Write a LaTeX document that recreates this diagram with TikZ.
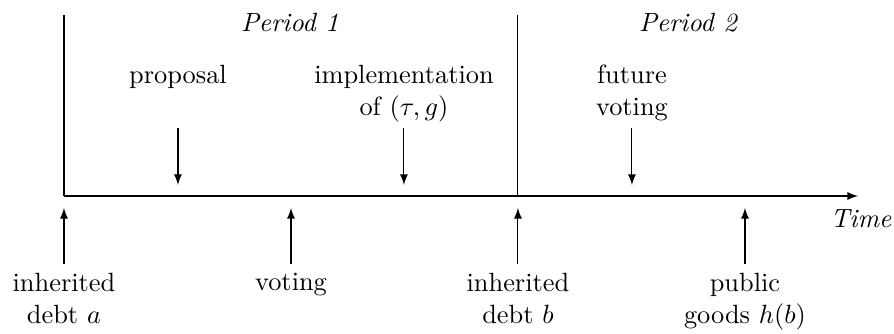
\documentclass[tikz,border=0pt]{standalone}
\usepackage{amsmath}
\usepackage{tikz}
\usetikzlibrary{arrows.meta}

\begin{document}
\begin{tikzpicture}[>=latex, toplabel/.style={align=center, anchor=north}, botlabel/.style={align=center, anchor=north}]
    % 1. Frame of the picture
    \useasboundingbox (-0.853,-1.827) rectangle (11.067,2.613);

    % 2. Time axis and period separators
    \coordinate (start) at (0,0);
    \coordinate (finish) at (10.587,0);
    \coordinate (split) at (6.053,0);
    \coordinate (starttop) at (0,2.413);
    \coordinate (splittop) at (6.053,2.413);
    \draw[->] (start) -- (finish);
    \draw (start) -- (starttop);
    \draw (split) -- (splittop);
    \node (time) at (10.627,-0.3) {\textit{Time}};

    % 3. Period titles
    \node (per1) at (3.013,2.313) {\textit{Period 1}};
    \node (per2) at (8.327,2.313) {\textit{Period 2}};

    % 4. Events above the axis
    \coordinate (prop1) at (1.52,0.907);    \coordinate (prop2) at (1.52,0.147);
    \coordinate (impl1) at (4.533,0.907);   \coordinate (impl2) at (4.533,0.147);
    \coordinate (fut1) at (7.573,0.907);    \coordinate (fut2) at (7.573,0.147);
    \draw[->] (prop1) -- (prop2);
    \draw[->] (impl1) -- (impl2);
    \draw[->] (fut1) -- (fut2);
    \node[toplabel] (proposal) at (1.52,1.867) {proposal};
    \node[toplabel] (implement) at (4.533,1.867) {implementation\\ of $(\tau,g)$};
    \node[toplabel] (future) at (7.573,1.867) {future\\ voting};

    % 5. Events below the axis
    \coordinate (debta1) at (0,-0.907);     \coordinate (debta2) at (0,-0.16);
    \coordinate (vote1) at (3.027,-0.907);  \coordinate (vote2) at (3.027,-0.16);
    \coordinate (debtb1) at (6.053,-0.907); \coordinate (debtb2) at (6.053,-0.16);
    \coordinate (pub1) at (9.08,-0.907);    \coordinate (pub2) at (9.08,-0.16);
    \draw[->] (debta1) -- (debta2);
    \draw[->] (vote1) -- (vote2);
    \draw[->] (debtb1) -- (debtb2);
    \draw[->] (pub1) -- (pub2);
    \node[botlabel] (debta) at (debta1) {inherited\\ debt $a$};
    \node[botlabel] (voting) at (vote1) {voting};
    \node[botlabel] (debtb) at (debtb1) {inherited\\ debt $b$};
    \node[botlabel] (public) at (pub1) {public\\ goods $h(b)$};
\end{tikzpicture}
\end{document}
